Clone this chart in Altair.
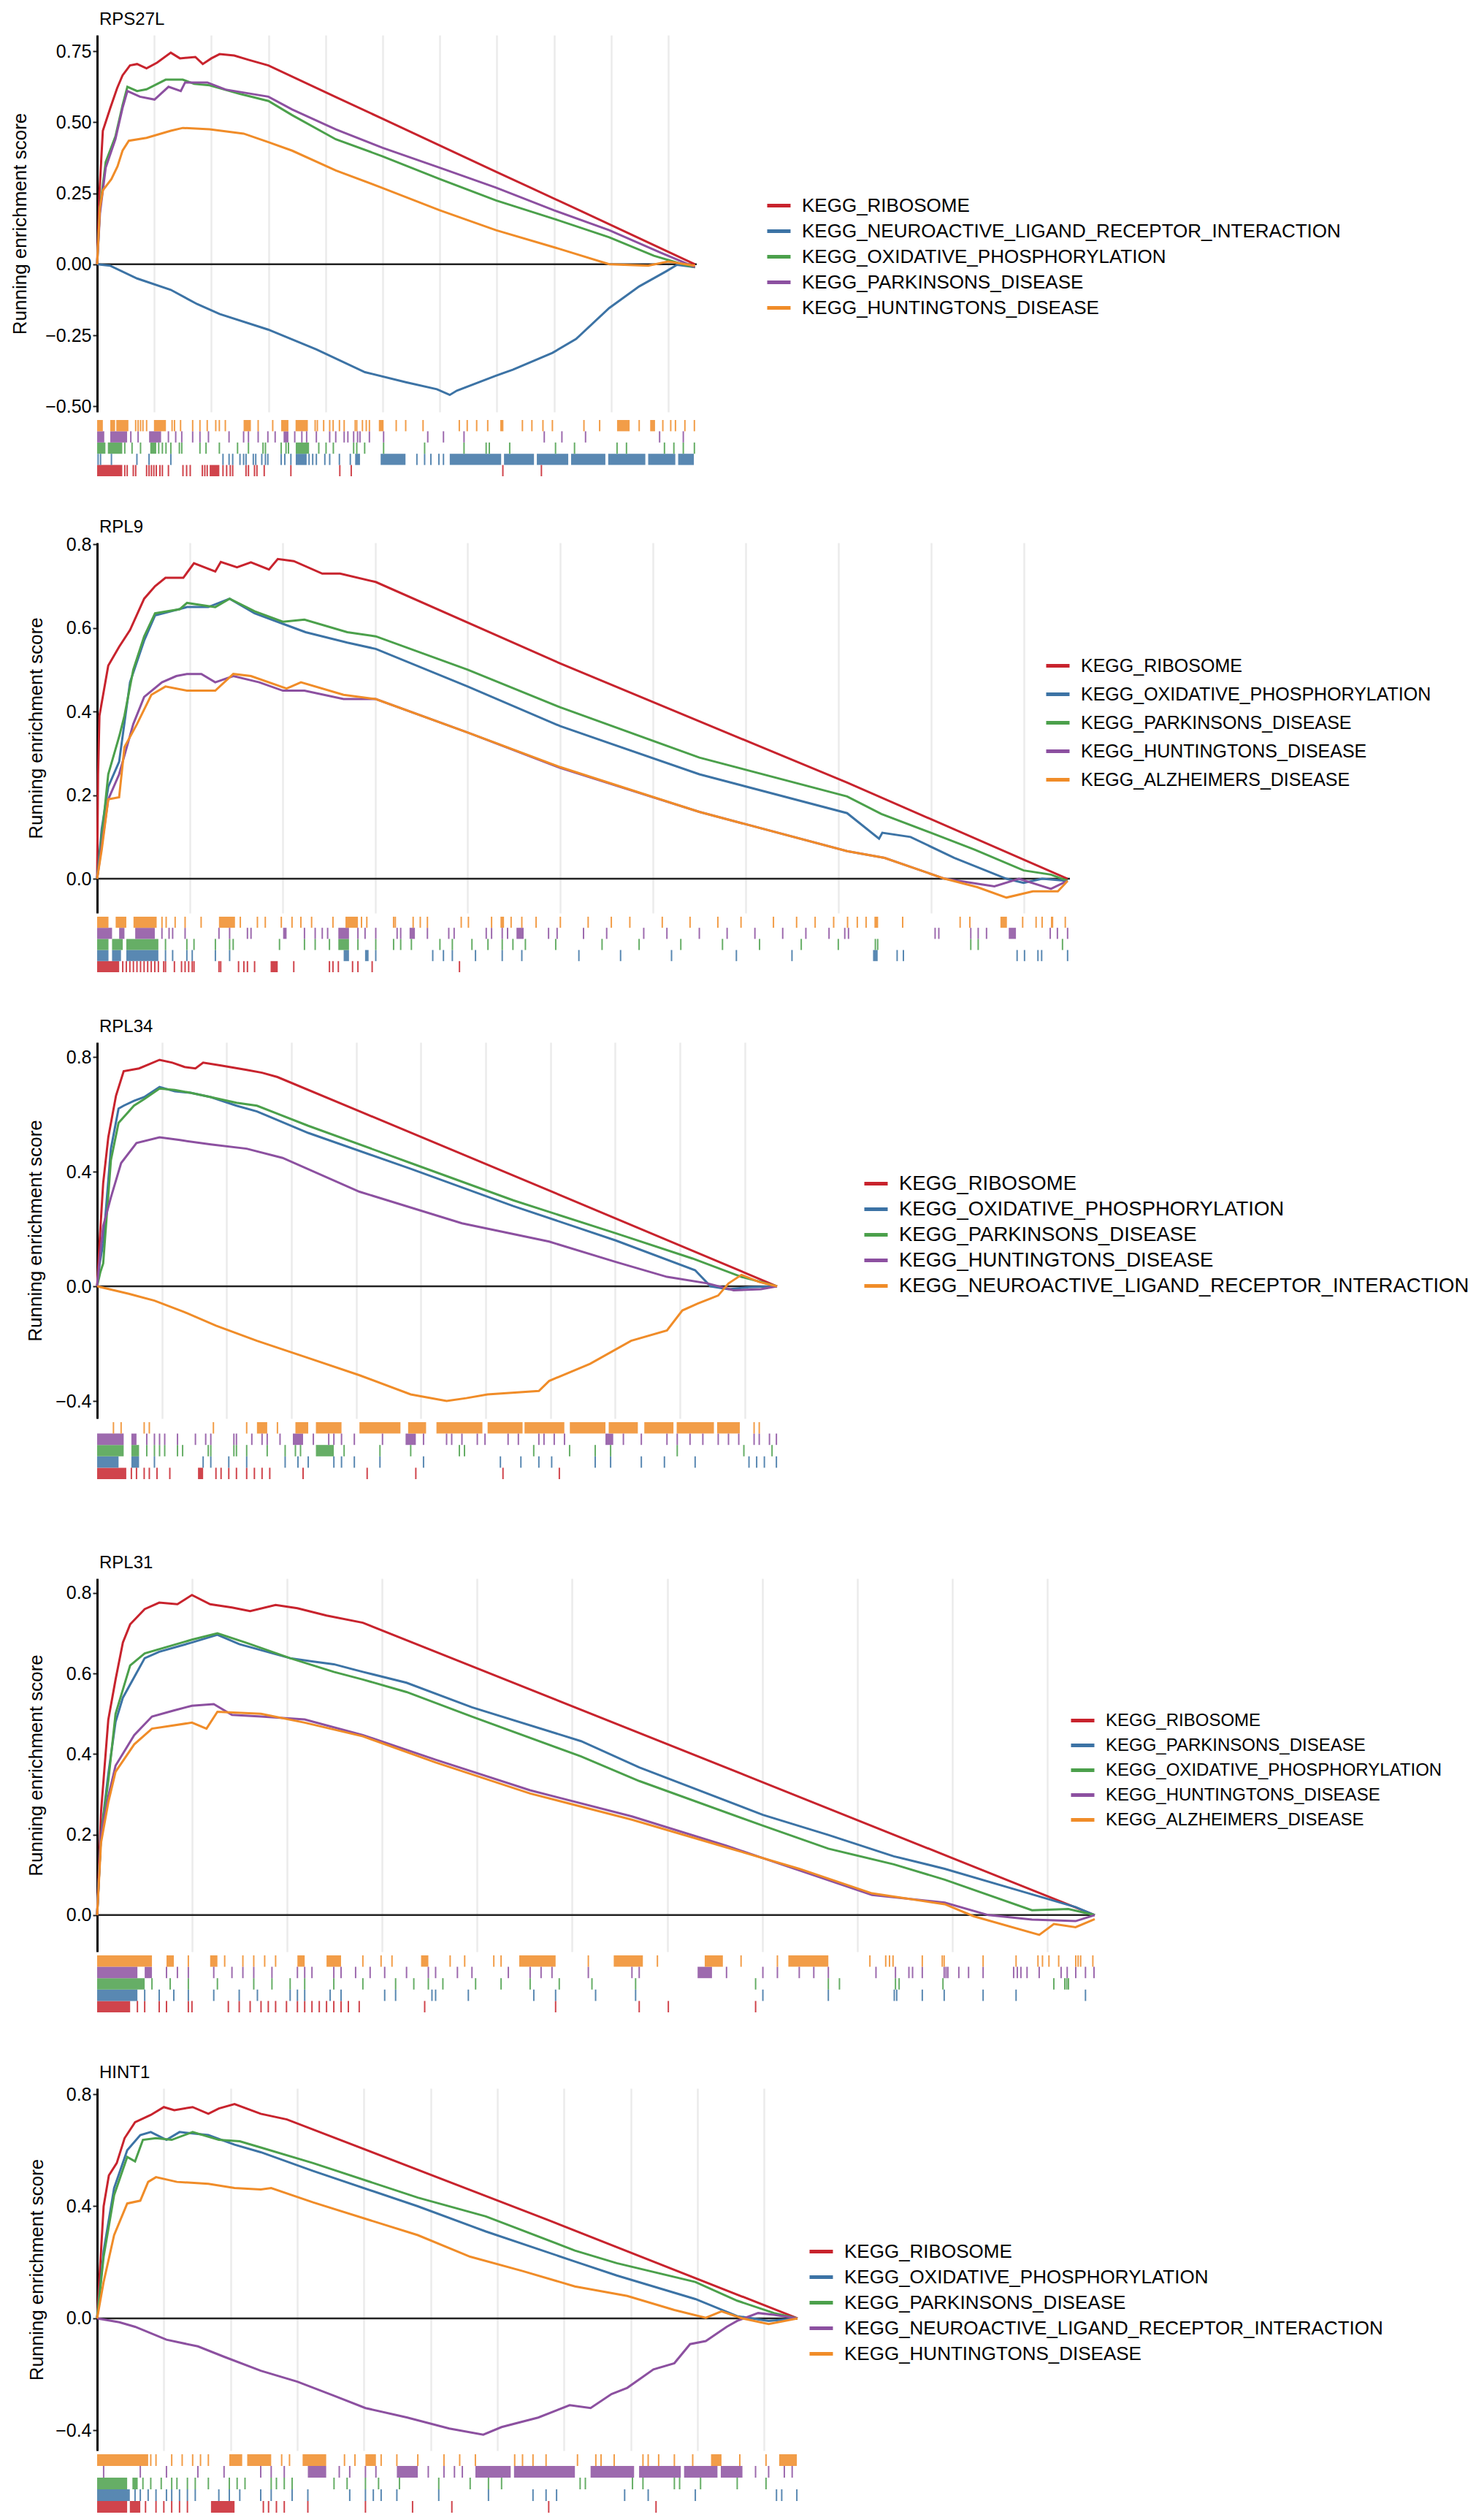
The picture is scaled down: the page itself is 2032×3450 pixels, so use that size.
import altair as alt
import pandas as pd

FONT = "Liberation Sans"
PALETTE = ["#C8232D", "#3C73A5", "#4BA04B", "#8C50A0", "#F08C28"]
N_GENES = 21000
GRID_RANKS = [2000, 4000, 6000, 8000, 10000, 12000, 14000, 16000, 18000, 20000]

RIB = "KEGG_RIBOSOME"
NEURO = "KEGG_NEUROACTIVE_LIGAND_RECEPTOR_INTERACTION"
OXPHOS = "KEGG_OXIDATIVE_PHOSPHORYLATION"
PARK = "KEGG_PARKINSONS_DISEASE"
HUNT = "KEGG_HUNTINGTONS_DISEASE"
ALZ = "KEGG_ALZHEIMERS_DISEASE"

# ---------------- RPS27L ----------------
RPS27L_SETS = [RIB, NEURO, OXPHOS, PARK, HUNT]
ES_RPS27L_RIB = [(0, 0), (80, 0.25), (200, 0.47), (460, 0.55), (700, 0.62), (890, 0.665), (1150, 0.70), (1400, 0.705),
                 (1730, 0.69), (2100, 0.71), (2580, 0.745), (2900, 0.725), (3440, 0.73), (3700, 0.705), (4000, 0.725),
                 (4290, 0.74), (4800, 0.735), (5300, 0.72), (6000, 0.70), (8360, 0.589), (10000, 0.512),
                 (13970, 0.326), (17000, 0.185), (20940, 0.0)]
ES_RPS27L_NEURO = [(0, 0), (450, -0.005), (1400, -0.05), (2580, -0.09), (3500, -0.14), (4290, -0.175), (5990, -0.23),
                   (7680, -0.30), (9380, -0.38), (10810, -0.415), (11900, -0.44), (12350, -0.46), (12600, -0.445),
                   (13950, -0.393), (14560, -0.371), (15945, -0.312), (16775, -0.263), (17935, -0.154),
                   (18985, -0.078), (19945, -0.024), (20310, -0.002), (20940, -0.01)]
ES_RPS27L_OXPHOS = [(0, 0), (100, 0.2), (300, 0.36), (640, 0.45), (890, 0.56), (1060, 0.625), (1400, 0.61),
                    (1730, 0.616), (2400, 0.65), (3000, 0.65), (3400, 0.635), (3940, 0.63), (5000, 0.60),
                    (6000, 0.575), (6830, 0.525), (8360, 0.44), (10000, 0.38), (12000, 0.30), (13970, 0.225),
                    (16000, 0.16), (17935, 0.095), (19500, 0.03), (20500, 0.0), (20940, -0.01)]
ES_RPS27L_PARK = [(0, 0), (100, 0.18), (300, 0.34), (640, 0.44), (890, 0.55), (1060, 0.61), (1500, 0.59),
                  (2010, 0.58), (2500, 0.625), (2930, 0.61), (3080, 0.64), (3860, 0.64), (4500, 0.615), (6000, 0.59),
                  (6830, 0.545), (8360, 0.475), (10000, 0.41), (12000, 0.34), (13970, 0.27), (16000, 0.19),
                  (17935, 0.12), (19750, 0.04), (20940, -0.01)]
ES_RPS27L_HUNT = [(0, 0), (100, 0.2), (200, 0.26), (500, 0.30), (715, 0.345), (890, 0.40), (1110, 0.435),
                  (1730, 0.445), (2580, 0.47), (3000, 0.48), (3940, 0.475), (5130, 0.46), (6000, 0.43), (6830, 0.40),
                  (8360, 0.33), (9960, 0.27), (12000, 0.19), (13970, 0.12), (16000, 0.06), (17935, 0.0),
                  (19300, -0.005), (20000, 0.01), (20940, -0.005)]
HITS_RPS27L_RIB = [968, 1053, 1266, 1350, 1733, 1818, 1902, 1987, 2072, 2200, 2285, 2497, 3006, 3134, 3261, 3686, 3771,
                   3856, 4408, 4536, 4663, 4748, 5215, 5300, 5512, 5597, 5852, 6786, 8500, 8900, 14210, 15560]
RUNS_RPS27L_RIB = [(0, 880), (3941, 4281)]
HITS_RPS27L_NEURO = [34, 119, 501, 1393, 1818, 2582, 4408, 4621, 4748, 5003, 5130, 5215, 5470, 5555, 5767, 5894, 5979,
                     6446, 6574, 6786, 7423, 7550, 7678, 7975, 8145, 8485, 8867, 11200, 11470, 11690, 11970, 12130]
RUNS_RPS27L_NEURO = [(6956, 7338), (9037, 9207), (9930, 10800), (12350, 14150), (14250, 15300), (15400, 16500),
                     (16600, 17800), (17900, 19200), (19300, 20250), (20350, 20900)]
HITS_RPS27L_OXPHOS = [968, 1223, 1520, 2157, 2285, 2412, 2582, 2880, 2964, 3601, 3814, 4281, 4918, 5300, 5810, 5895,
                      6446, 6616, 6701, 7763, 8018, 8273, 8984, 9094, 9370, 10033, 11470, 12850, 13625, 13735, 14450,
                      16055, 16720, 18210, 18540, 19870, 20200, 20530, 20918]
RUNS_RPS27L_OXPHOS = [(0, 290), (375, 880), (1860, 2070), (6956, 7423)]
HITS_RPS27L_PARK = [1180, 1435, 2497, 2752, 2964, 3346, 3601, 3899, 4620, 5130, 5300, 5640, 5980, 6235, 6921, 7170,
                    7338, 7678, 8145, 8357, 8652, 8782, 8984, 9122, 9205, 9536, 10033, 11580, 12130, 12850, 15660,
                    16278, 17106, 19700, 20530]
RUNS_RPS27L_PARK = [(0, 250), (460, 1050), (1820, 2240), (6530, 6700)]
HITS_RPS27L_HUNT = [1350, 1435, 1520, 1605, 1733, 2625, 2710, 2922, 3346, 3601, 3856, 4155, 4280, 4490, 5640, 6150,
                    7636, 7713, 7934, 8145, 8266, 8487, 8652, 9039, 9094, 9292, 9426, 9536, 10475, 10807, 11415, 12685,
                    12962, 13293, 13680, 14895, 15227, 15614, 15945, 17050, 17600, 18985, 19813, 20090, 20255, 20586,
                    20918]
RUNS_RPS27L_HUNT = [(0, 200), (460, 630), (670, 1095), (1990, 2410), (5130, 5385), (6446, 6700), (6950, 7380),
                    (9867, 10033), (14120, 14230), (18210, 18650), (19370, 19540)]

# ---------------- RPL9 ----------------
RPL9_SETS = [RIB, OXPHOS, PARK, HUNT, ALZ]
ES_RPL9_RIB = [(0, 0), (20, 0.25), (50, 0.39), (240, 0.51), (475, 0.555), (710, 0.595), (1015, 0.67), (1250, 0.70),
               (1475, 0.72), (1860, 0.72), (2090, 0.755), (2550, 0.735), (2670, 0.758), (3020, 0.745), (3320, 0.757),
               (3710, 0.74), (3900, 0.765), (4245, 0.76), (4860, 0.73), (5245, 0.73), (6015, 0.71), (10000, 0.515),
               (16190, 0.23), (20950, 0.0)]
ES_RPL9_OXPHOS = [(0, 0), (100, 0.12), (240, 0.22), (475, 0.28), (710, 0.47), (1015, 0.57), (1250, 0.63),
                  (1600, 0.64), (1940, 0.65), (2400, 0.65), (2860, 0.67), (3400, 0.635), (4010, 0.61), (4500, 0.59),
                  (5400, 0.565), (6015, 0.55), (8000, 0.46), (10000, 0.365), (13000, 0.25), (16190, 0.157),
                  (16880, 0.096), (16950, 0.11), (17560, 0.10), (18500, 0.05), (19630, 0.0), (20000, -0.01),
                  (20400, 0.0), (20950, -0.005)]
ES_RPL9_PARK = [(0, 0), (100, 0.10), (240, 0.25), (475, 0.34), (590, 0.39), (780, 0.50), (1015, 0.58), (1250, 0.635),
                (1785, 0.645), (1940, 0.66), (2550, 0.65), (2860, 0.67), (3400, 0.64), (4010, 0.615), (4475, 0.62),
                (5400, 0.59), (6015, 0.58), (8000, 0.50), (10000, 0.41), (13000, 0.29), (16190, 0.197),
                (16930, 0.155), (18000, 0.11), (18940, 0.07), (20000, 0.02), (20590, 0.01), (20950, -0.005)]
ES_RPL9_HUNT = [(0, 0), (100, 0.08), (240, 0.19), (475, 0.25), (780, 0.37), (1015, 0.435), (1400, 0.47),
                (1710, 0.485), (1940, 0.49), (2250, 0.49), (2550, 0.47), (2940, 0.485), (3500, 0.47), (4010, 0.45),
                (4475, 0.45), (5320, 0.43), (6015, 0.43), (8000, 0.35), (10000, 0.265), (13000, 0.16),
                (16190, 0.066), (17000, 0.05), (18300, 0.0), (19370, -0.018), (19900, 0.0), (20590, -0.024),
                (20950, -0.005)]
ES_RPL9_ALZ = [(0, 0), (100, 0.07), (240, 0.19), (475, 0.195), (590, 0.315), (860, 0.37), (1170, 0.44), (1475, 0.46),
               (1940, 0.45), (2550, 0.45), (2940, 0.49), (3320, 0.485), (4090, 0.455), (4400, 0.47), (5320, 0.44),
               (6015, 0.43), (8000, 0.35), (10000, 0.267), (13000, 0.16), (16190, 0.066), (17000, 0.05),
               (18300, 0.0), (19000, -0.02), (19630, -0.045), (20200, -0.03), (20740, -0.03), (20950, -0.005)]
HITS_RPL9_RIB = [553, 630, 707, 783, 860, 937, 1014, 1091, 1168, 1245, 1322, 1437, 1476, 1668, 1822, 1899, 1976, 2053,
                 2091, 2630, 2668, 3053, 3168, 3245, 3399, 4245, 5015, 5091, 5207, 5514, 5630, 5937, 7822]
RUNS_RPL9_RIB = [(0, 476), (3745, 3899)]
HITS_RPL9_OXPHOS = [1476, 1630, 1937, 2053, 2553, 2860, 6015, 7245, 7476, 7668, 8168, 8745, 9168, 10400, 11300, 12400,
                    13800, 15000, 17270, 17405, 19860, 20020, 20310, 20390, 20950]
RUNS_RPL9_OXPHOS = [(0, 245), (322, 515), (630, 1322), (5322, 5437), (5784, 5860), (16750, 16850)]
HITS_RPL9_PARK = [1476, 1937, 2091, 2553, 2860, 2937, 3937, 4476, 4707, 5015, 5630, 6015, 6400, 6553, 6784, 7400,
                  7668, 8091, 8437, 8745, 8976, 9245, 9900, 10900, 11700, 12600, 13500, 14300, 15200, 16000, 16800,
                  16850, 18860, 19020, 20840]
RUNS_RPL9_PARK = [(0, 245), (322, 553), (630, 1322), (5207, 5437)]
HITS_RPL9_HUNT = [1399, 1553, 1630, 1899, 2630, 2860, 3245, 3322, 4476, 4707, 4860, 4976, 5630, 5784, 6015, 6476, 6553,
                  7130, 7591, 7707, 8400, 8515, 8745, 8860, 9745, 9930, 10500, 11000, 11800, 12300, 13000, 13600,
                  14200, 14800, 15300, 15800, 16140, 16220, 18090, 18170, 18860, 19020, 19200, 20575, 20730, 20950]
RUNS_RPL9_HUNT = [(0, 322), (475, 590), (822, 1245), (4015, 4090), (5207, 5437), (6745, 6860), (9053, 9207),
                  (19680, 19835)]
HITS_RPL9_ALZ = [1400, 1490, 1684, 1899, 2245, 3091, 3460, 3630, 3976, 4207, 4399, 4630, 5091, 5707, 5822, 6400, 6437,
                 6822, 6976, 7130, 7860, 8015, 8515, 8937, 9168, 9476, 10000, 10600, 11100, 11500, 12200, 12800, 13400,
                 13900, 14600, 15100, 15500, 15900, 16200, 16410, 16600, 17390, 18630, 18840, 19980, 20270, 20400,
                 20900]
RUNS_RPL9_ALZ = [(0, 245), (400, 630), (785, 1285), (2630, 2976), (5361, 5630), (8707, 8784), (16780, 16860),
                 (19500, 19640), (20590, 20640)]

# ---------------- RPL34 ----------------
RPL34_SETS = [RIB, OXPHOS, PARK, HUNT, NEURO]
ES_RPL34_RIB = [(0, 0), (100, 0.2), (187, 0.36), (345, 0.52), (583, 0.665), (820, 0.75), (1295, 0.76), (1612, 0.775),
                (1928, 0.79), (2324, 0.78), (2700, 0.765), (3036, 0.76), (3274, 0.78), (3828, 0.77), (4619, 0.755),
                (5094, 0.745), (5569, 0.73), (12614, 0.398), (21000, 0.0)]
ES_RPL34_OXPHOS = [(0, 0), (80, 0.08), (187, 0.15), (425, 0.48), (662, 0.62), (820, 0.63), (1137, 0.647),
                   (1453, 0.66), (1928, 0.695), (2400, 0.68), (2878, 0.675), (3511, 0.66), (4303, 0.63),
                   (4936, 0.61), (6520, 0.535), (9684, 0.41), (12851, 0.28), (16017, 0.16), (18470, 0.056),
                   (18945, 0.0), (19500, -0.01), (20130, -0.003), (21000, 0.0)]
ES_RPL34_PARK = [(0, 0), (100, 0.05), (187, 0.08), (425, 0.44), (662, 0.57), (1137, 0.63), (1453, 0.653),
                 (1928, 0.69), (2400, 0.685), (2878, 0.675), (3511, 0.66), (4303, 0.64), (4936, 0.63), (6520, 0.56),
                 (9684, 0.43), (12851, 0.30), (16017, 0.185), (18390, 0.097), (19900, 0.033), (21000, 0.0)]
ES_RPL34_HUNT = [(0, 0), (100, 0.12), (187, 0.21), (425, 0.31), (741, 0.43), (1216, 0.50), (1928, 0.52),
                 (2561, 0.51), (3511, 0.495), (4619, 0.48), (5727, 0.448), (8102, 0.33), (11267, 0.22),
                 (13960, 0.156), (16017, 0.085), (17600, 0.033), (18866, 0.01), (19660, -0.014), (20500, -0.01),
                 (21000, 0.0)]
ES_RPL34_NEURO = [(0, 0), (979, -0.026), (1770, -0.05), (2700, -0.09), (3670, -0.137), (4936, -0.19), (6520, -0.25),
                  (8102, -0.31), (9684, -0.377), (10793, -0.40), (11400, -0.39), (12060, -0.377), (13643, -0.365),
                  (13960, -0.33), (15225, -0.27), (16491, -0.19), (17600, -0.154), (18075, -0.084), (18550, -0.06),
                  (19183, -0.032), (19500, 0.01), (19900, 0.04), (20450, 0.015), (21000, 0.0)]
HITS_RPL34_RIB = [1058, 1216, 1453, 1612, 1849, 2245, 3670, 3828, 4066, 4303, 4619, 4857, 5094, 5332, 6361, 8340,
                  9843, 12535, 14276]
RUNS_RPL34_RIB = [(0, 900), (3115, 3274)]
HITS_RPL34_OXPHOS = [1770, 3274, 3511, 4066, 4619, 5807, 6203, 6520, 7312, 7548, 7944, 8735, 10081, 12455, 13088,
                     13643, 14039, 15384, 15859, 16808, 17521, 18470, 20133, 20370, 20608, 20980]
RUNS_RPL34_OXPHOS = [(0, 662), (1058, 1295)]
HITS_RPL34_PARK = [1533, 1770, 1928, 2087, 2482, 2640, 3432, 3511, 4224, 4303, 4619, 5253, 5807, 6124, 6282, 7628,
                   8735, 9685, 11188, 11346, 13485, 14593, 15384, 15859, 17917, 19975, 20845]
RUNS_RPL34_PARK = [(0, 820), (1058, 1295), (6757, 7310)]
HITS_RPL34_HUNT = [1533, 1770, 1928, 2087, 2482, 3036, 3353, 3511, 4224, 4303, 4778, 5094, 5253, 5649, 6678, 7153,
                   7312, 7548, 7944, 8814, 10081, 10793, 10951, 11267, 11742, 11980, 12693, 13010, 13643, 13802, 14118,
                   14435, 16254, 16808, 17600, 17917, 18312, 18708, 19183, 19500, 19817, 20291, 20450, 20766, 20980]
RUNS_RPL34_HUNT = [(0, 820), (1058, 1216), (6045, 6361), (9527, 9843), (15700, 15940)]
HITS_RPL34_NEURO = [504, 741, 1453, 1612, 3591, 4619, 5569, 20291, 20450]
RUNS_RPL34_NEURO = [(4936, 5253), (6124, 6520), (6757, 7548), (8102, 9368), (9605, 10160), (10480, 11900),
                    (12060, 13140), (13200, 14430), (14600, 15700), (15800, 16700), (16900, 17800), (17900, 19050),
                    (19150, 19850)]

# ---------------- RPL31 ----------------
RPL31_SETS = [RIB, PARK, OXPHOS, HUNT, ALZ]
ES_RPL31_RIB = [(0, 0), (82, 0.256), (235, 0.485), (388, 0.585), (542, 0.677), (695, 0.722), (1001, 0.76),
                (1307, 0.776), (1690, 0.772), (1996, 0.795), (2379, 0.772), (2838, 0.764), (3221, 0.755),
                (3757, 0.77), (4216, 0.762), (4829, 0.744), (5594, 0.726), (13861, 0.337), (21000, 0.0)]
ES_RPL31_PARK = [(0, 0), (82, 0.2), (235, 0.35), (388, 0.48), (542, 0.54), (1001, 0.638), (1307, 0.654),
                 (1996, 0.677), (2532, 0.696), (2991, 0.673), (3450, 0.658), (4063, 0.638), (4522, 0.63),
                 (4982, 0.623), (5594, 0.604), (6513, 0.577), (7890, 0.516), (10187, 0.432), (11411, 0.367),
                 (14014, 0.249), (15392, 0.199), (16770, 0.146), (17842, 0.115), (19372, 0.062), (20597, 0.02),
                 (21000, 0.0)]
ES_RPL31_OXPHOS = [(0, 0), (82, 0.2), (235, 0.333), (388, 0.5), (542, 0.56), (695, 0.62), (1001, 0.65),
                   (1996, 0.684), (2532, 0.70), (3144, 0.676), (4063, 0.638), (4982, 0.604), (5594, 0.585),
                   (6513, 0.554), (7890, 0.493), (10187, 0.394), (11411, 0.333), (14014, 0.222), (15392, 0.165),
                   (16770, 0.126), (17842, 0.088), (19679, 0.012), (20444, 0.015), (21000, 0.0)]
ES_RPL31_HUNT = [(0, 0), (82, 0.2), (235, 0.295), (388, 0.371), (781, 0.447), (1154, 0.493), (1614, 0.508),
                 (1996, 0.52), (2455, 0.524), (2838, 0.497), (3450, 0.493), (4369, 0.486), (5594, 0.447),
                 (7125, 0.386), (9115, 0.31), (11258, 0.245), (13249, 0.172), (14780, 0.111), (16311, 0.05),
                 (17842, 0.031), (18760, 0.0), (19679, -0.011), (20597, -0.015), (21000, 0.0)]
ES_RPL31_ALZ = [(0, 0), (82, 0.18), (235, 0.28), (388, 0.356), (781, 0.424), (1154, 0.463), (1996, 0.478),
                (2302, 0.463), (2532, 0.505), (3450, 0.50), (4369, 0.478), (5594, 0.444), (7125, 0.379),
                (9115, 0.302), (11258, 0.237), (13249, 0.168), (14780, 0.115), (16311, 0.054), (17842, 0.027),
                (18454, -0.003), (19832, -0.049), (20140, -0.022), (20597, -0.03), (21000, -0.01)]
HITS_RPL31_RIB = [848, 1001, 1307, 1460, 1920, 1996, 2762, 2991, 3221, 3450, 3603, 3757, 3986, 4216, 4369, 4522, 4676,
                  4829, 4982, 5135, 5288, 5517, 6895, 9651, 11411, 12024, 13861]
RUNS_RPL31_RIB = [(0, 695)]
HITS_RPL31_PARK = [1001, 1307, 1614, 1920, 2455, 2991, 3374, 4063, 4216, 4369, 4905, 5135, 6053, 6283, 7048, 7125,
                   7814, 9192, 9651, 10493, 11335, 14014, 15392, 16780, 16831, 17370, 17831, 18650, 19344, 20805]
RUNS_RPL31_PARK = [(0, 848)]
HITS_RPL31_OXPHOS = [1154, 1537, 1920, 2532, 3297, 3680, 4063, 4369, 4982, 5594, 6283, 6666, 6972, 7278, 7967, 8503,
                     9115, 9728, 10416, 11335, 13861, 15392, 15626, 16805, 16882, 17805, 20139, 20370, 20410, 20447]
RUNS_RPL31_OXPHOS = [(0, 1001)]
HITS_RPL31_HUNT = [1460, 1690, 1920, 2455, 2838, 3068, 3297, 3680, 4216, 4369, 4522, 4982, 5135, 5441, 5747, 6053,
                   6513, 6972, 7125, 7584, 7890, 8656, 9115, 9345, 9575, 10340, 11258, 11411, 13249, 14014, 14320,
                   14780, 15086, 15392, 16395, 16805, 17088, 17165, 17370, 17830, 17870, 17908, 18139, 18344, 18650,
                   19293, 19370, 19446, 19575, 19831, 20292, 20420, 20600, 20805, 20985]
RUNS_RPL31_HUNT = [(0, 848), (1001, 1154), (12640, 12943)]
HITS_RPL31_ALZ = [1920, 2685, 3068, 3297, 3527, 3757, 5594, 5977, 6207, 7431, 7737, 8350, 8503, 10340, 11794, 13555,
                  14320, 16267, 16600, 16680, 16754, 17370, 17790, 17830, 18650, 19344, 19805, 19900, 20036, 20241,
                  20600, 20650, 20703, 20960]
RUNS_RPL31_ALZ = [(0, 1154), (1460, 1614), (2379, 2532), (4216, 4369), (4829, 5135), (6819, 6972), (8886, 9651),
                  (10875, 11488), (12790, 13172), (14550, 15392)]

# ---------------- HINT1 ----------------
HINT1_SETS = [RIB, OXPHOS, PARK, NEURO, HUNT]
ES_HINT1_RIB = [(0, 0), (195, 0.40), (352, 0.51), (588, 0.554), (823, 0.643), (1137, 0.70), (1608, 0.726),
                (2000, 0.754), (2314, 0.743), (2864, 0.754), (3335, 0.73), (3649, 0.749), (4120, 0.765),
                (4905, 0.73), (5690, 0.71), (13540, 0.35), (21000, 0.0)]
ES_HINT1_OXPHOS = [(0, 0), (195, 0.24), (509, 0.465), (902, 0.60), (1294, 0.654), (1608, 0.665), (2079, 0.637),
                   (2471, 0.665), (2864, 0.66), (3335, 0.654), (4120, 0.62), (4905, 0.593), (6475, 0.526),
                   (9615, 0.40), (11656, 0.31), (14325, 0.203), (15581, 0.153), (17936, 0.069), (19192, 0.008),
                   (20134, -0.009), (21000, 0.0)]
ES_HINT1_PARK = [(0, 0), (195, 0.22), (509, 0.44), (902, 0.576), (1137, 0.56), (1373, 0.637), (1765, 0.643),
                 (2236, 0.637), (2864, 0.665), (3649, 0.637), (4277, 0.632), (4905, 0.61), (6475, 0.554),
                 (9615, 0.431), (11656, 0.364), (14325, 0.242), (15581, 0.197), (17936, 0.13), (19192, 0.063),
                 (20291, 0.019), (21000, 0.0)]
ES_HINT1_NEURO = [(0, 0), (666, -0.014), (1137, -0.03), (2079, -0.076), (3021, -0.10), (3806, -0.137),
                  (4905, -0.187), (6004, -0.226), (7103, -0.276), (8045, -0.32), (9301, -0.354), (10557, -0.393),
                  (11578, -0.415), (12127, -0.388), (13226, -0.354), (14168, -0.31), (14796, -0.32),
                  (15424, -0.27), (15895, -0.248), (16680, -0.182), (17308, -0.16), (17779, -0.092),
                  (18250, -0.081), (18878, -0.03), (19192, -0.009), (19820, 0.019), (20291, 0.013), (21000, 0.0)]
ES_HINT1_HUNT = [(0, 0), (195, 0.13), (509, 0.297), (902, 0.41), (1294, 0.42), (1530, 0.487), (1765, 0.504),
                 (2393, 0.487), (3335, 0.48), (4120, 0.465), (4905, 0.46), (5219, 0.465), (6475, 0.414),
                 (9615, 0.297), (11185, 0.22), (12755, 0.169), (14325, 0.114), (15895, 0.08), (17308, 0.03),
                 (18250, 0.002), (18721, 0.025), (19349, 0.0), (20134, -0.02), (21000, 0.0)]
HITS_HINT1_RIB = [1451, 1765, 2000, 2236, 2471, 2707, 4984, 5140, 5376, 5611, 6318, 8045, 9458, 10636, 13540, 16758]
RUNS_HINT1_RIB = [(0, 900), (980, 1294), (3414, 4120)]
HITS_HINT1_OXPHOS = [1137, 1294, 1530, 1765, 2079, 2236, 2471, 2707, 2942, 3649, 3963, 4277, 4905, 5219, 5847, 6318,
                     7574, 8045, 8281, 8516, 8987, 10243, 11734, 13069, 13461, 13776, 15817, 16523, 17936, 20370,
                     20527, 20980]
RUNS_HINT1_OXPHOS = [(0, 980)]
HITS_HINT1_PARK = [1373, 1608, 1922, 2236, 2393, 2707, 2942, 3335, 3963, 4198, 4434, 5219, 5376, 5611, 5847, 7103,
                   7495, 8045, 8438, 9065, 10243, 11185, 11734, 12127, 14482, 14639, 16052, 16366, 17308, 17465,
                   18093, 19192, 20056]
RUNS_HINT1_PARK = [(0, 900), (1058, 1216)]
HITS_HINT1_NEURO = [195, 1294, 2079, 3021, 3806, 4905, 5219, 5611, 7260, 7574, 8045, 8359, 9929, 10400, 10714, 10950,
                    19742, 20134, 20605, 20840]
RUNS_HINT1_NEURO = [(6318, 6868), (8987, 9615), (11342, 12400), (12500, 14325), (14796, 16100), (16250, 17500),
                    (17600, 18600), (18700, 19349)]
HITS_HINT1_HUNT = [1608, 1765, 2236, 2550, 2864, 3100, 3335, 5533, 5768, 7417, 7731, 8516, 8987, 9615, 10400, 10871,
                   11342, 12520, 12755, 13069, 13461, 14403, 14953, 15110, 15503, 16366, 16523, 16837, 17308, 17858,
                   19270, 20056]
RUNS_HINT1_HUNT = [(0, 1530), (3963, 4350), (4500, 5219), (6161, 6868), (8045, 8359), (18407, 18721), (20450, 20980)]

PANELS = [
    dict(title="RPS27L", sets=RPS27L_SETS,
         es=[ES_RPS27L_RIB, ES_RPS27L_NEURO, ES_RPS27L_OXPHOS, ES_RPS27L_PARK, ES_RPS27L_HUNT],
         hits=[HITS_RPS27L_RIB, HITS_RPS27L_NEURO, HITS_RPS27L_OXPHOS, HITS_RPS27L_PARK, HITS_RPS27L_HUNT],
         runs=[RUNS_RPS27L_RIB, RUNS_RPS27L_NEURO, RUNS_RPS27L_OXPHOS, RUNS_RPS27L_PARK, RUNS_RPS27L_HUNT],
         width=821, es_h=516, hit_h=77, ydom=[-0.52, 0.807], yticks=[-0.5, -0.25, 0, 0.25, 0.5, 0.75], fmt=".2f",
         tpad=21, lx=915, ly=215, lfs=26, lpad=3),
    dict(title="RPL9", sets=RPL9_SETS,
         es=[ES_RPL9_RIB, ES_RPL9_OXPHOS, ES_RPL9_PARK, ES_RPL9_HUNT, ES_RPL9_ALZ],
         hits=[HITS_RPL9_RIB, HITS_RPL9_OXPHOS, HITS_RPL9_PARK, HITS_RPL9_HUNT, HITS_RPL9_ALZ],
         runs=[RUNS_RPL9_RIB, RUNS_RPL9_OXPHOS, RUNS_RPL9_PARK, RUNS_RPL9_HUNT, RUNS_RPL9_ALZ],
         width=1332, es_h=507, hit_h=76, ydom=[-0.082, 0.804], yticks=[0, 0.2, 0.4, 0.6, 0.8], fmt=".1f",
         tpad=28, lx=1297, ly=150, lfs=25, lpad=7),
    dict(title="RPL34", sets=RPL34_SETS,
         es=[ES_RPL34_RIB, ES_RPL34_OXPHOS, ES_RPL34_PARK, ES_RPL34_HUNT, ES_RPL34_NEURO],
         hits=[HITS_RPL34_RIB, HITS_RPL34_OXPHOS, HITS_RPL34_PARK, HITS_RPL34_HUNT, HITS_RPL34_NEURO],
         runs=[RUNS_RPL34_RIB, RUNS_RPL34_OXPHOS, RUNS_RPL34_PARK, RUNS_RPL34_HUNT, RUNS_RPL34_NEURO],
         width=931, es_h=515, hit_h=78, ydom=[-0.461, 0.851], yticks=[-0.4, 0, 0.4, 0.8], fmt=".1f",
         tpad=14, lx=1048, ly=175, lfs=27.5, lpad=3),
    dict(title="RPL31", sets=RPL31_SETS,
         es=[ES_RPL31_RIB, ES_RPL31_PARK, ES_RPL31_OXPHOS, ES_RPL31_HUNT, ES_RPL31_ALZ],
         hits=[HITS_RPL31_RIB, HITS_RPL31_PARK, HITS_RPL31_OXPHOS, HITS_RPL31_HUNT, HITS_RPL31_ALZ],
         runs=[RUNS_RPL31_RIB, RUNS_RPL31_PARK, RUNS_RPL31_OXPHOS, RUNS_RPL31_HUNT, RUNS_RPL31_ALZ],
         width=1366, es_h=511, hit_h=78, ydom=[-0.091, 0.836], yticks=[0, 0.2, 0.4, 0.6, 0.8], fmt=".1f",
         tpad=28, lx=1331, ly=176, lfs=24, lpad=3),
    dict(title="HINT1", sets=HINT1_SETS,
         es=[ES_HINT1_RIB, ES_HINT1_OXPHOS, ES_HINT1_PARK, ES_HINT1_NEURO, ES_HINT1_HUNT],
         hits=[HITS_HINT1_RIB, HITS_HINT1_OXPHOS, HITS_HINT1_PARK, HITS_HINT1_NEURO, HITS_HINT1_HUNT],
         runs=[RUNS_HINT1_RIB, RUNS_HINT1_OXPHOS, RUNS_HINT1_PARK, RUNS_HINT1_NEURO, RUNS_HINT1_HUNT],
         width=959, es_h=496, hit_h=80, ydom=[-0.472, 0.821], yticks=[-0.4, 0, 0.4, 0.8], fmt=".1f",
         tpad=12, lx=973, ly=205, lfs=26, lpad=3),
]
# empty space between one panel's hit strip and the top of the next panel's title
GAPS = [58, 63, 103, 71]


def panel_chart(p):
    sets = p["sets"]
    es_df = pd.DataFrame([{"rank": r, "score": s, "set": name}
                          for name, pts in zip(sets, p["es"]) for r, s in pts])
    hit_df = pd.DataFrame([{"rank": r, "set": name}
                           for name, ranks in zip(sets, p["hits"]) for r in ranks])
    run_df = pd.DataFrame([{"start": a, "end": b, "set": name}
                           for name, runs in zip(sets, p["runs"]) for a, b in runs])

    color_scale = alt.Scale(domain=sets, range=PALETTE)
    x_scale = alt.Scale(domain=[0, N_GENES], nice=False, zero=False)

    y_enc = alt.Y("score:Q",
                  scale=alt.Scale(domain=p["ydom"], nice=False, zero=False),
                  axis=alt.Axis(values=p["yticks"], format=p["fmt"], title="Running enrichment score",
                                grid=False, domainColor="black", domainWidth=3, tickColor="#222222",
                                tickWidth=2, tickSize=6, labelFontSize=25, labelColor="black", labelPadding=2,
                                titleFontSize=26, titleFontWeight="normal", titleColor="black",
                                titlePadding=p["tpad"], labelFont=FONT, titleFont=FONT))

    zero = alt.Chart(pd.DataFrame({"score": [0.0]})).mark_rule(color="#222222", strokeWidth=2.5).encode(y=y_enc)

    lines = alt.Chart(es_df).mark_line(strokeWidth=3).encode(
        x=alt.X("rank:Q", scale=x_scale,
                axis=alt.Axis(values=GRID_RANKS, grid=True, gridColor="#EBEBEB", gridWidth=2.5,
                              labels=False, ticks=False, domain=False, title=None)),
        y=y_enc,
        color=alt.Color("set:N", scale=color_scale,
                        legend=alt.Legend(title=None, orient="none", legendX=p["lx"], legendY=p["ly"],
                                          symbolType="stroke", symbolStrokeWidth=5, symbolSize=1024,
                                          labelFontSize=p["lfs"], labelFont=FONT, labelColor="black",
                                          labelLimit=0, labelOffset=13, rowPadding=p["lpad"], padding=0)),
    )

    # panel title, written just above the top-left corner of the plot
    title = alt.Chart(pd.DataFrame({"t": [p["title"]]})).mark_text(
        align="left", baseline="alphabetic", fontSize=24, font=FONT, color="black", dx=3, dy=-14
    ).encode(x=alt.value(0), y=alt.value(0), text="t:N")

    es_chart = alt.layer(zero, lines, title).properties(width=p["width"], height=p["es_h"])

    row_order = list(reversed(sets))
    y_rows = alt.Y("set:N", sort=row_order,
                   scale=alt.Scale(type="band", domain=row_order, paddingInner=0, paddingOuter=0), axis=None)
    hit_color = alt.Color("set:N", scale=color_scale, legend=None)

    runs = alt.Chart(run_df).mark_rect(opacity=0.85).encode(
        x=alt.X("start:Q", scale=x_scale, axis=None), x2="end:Q", y=y_rows, color=hit_color)
    ticks = alt.Chart(hit_df).mark_tick(thickness=2, size=p["hit_h"] / 5, opacity=0.85).encode(
        x=alt.X("rank:Q", scale=x_scale, axis=None), y=y_rows, color=hit_color)

    hit_chart = alt.layer(runs, ticks).properties(width=p["width"], height=p["hit_h"])

    return alt.vconcat(es_chart, hit_chart, spacing=5).resolve_scale(color="independent")


def spacer(h):
    return alt.Chart(pd.DataFrame({"v": [0]})).mark_point(opacity=0, size=1).encode(
        x=alt.value(0), y=alt.value(h / 2)).properties(width=10, height=h)


parts = []
for i, p in enumerate(PANELS):
    parts.append(panel_chart(p))
    if i < len(GAPS):
        parts.append(spacer(GAPS[i]))

chart = alt.vconcat(*parts, spacing=0).resolve_scale(color="independent").properties(
    padding={"left": 6, "top": 7, "right": 5, "bottom": 0}
).configure(font=FONT, background="white").configure_view(stroke=None)

chart.save("out.html", embed_options={"renderer": "svg", "actions": False})
